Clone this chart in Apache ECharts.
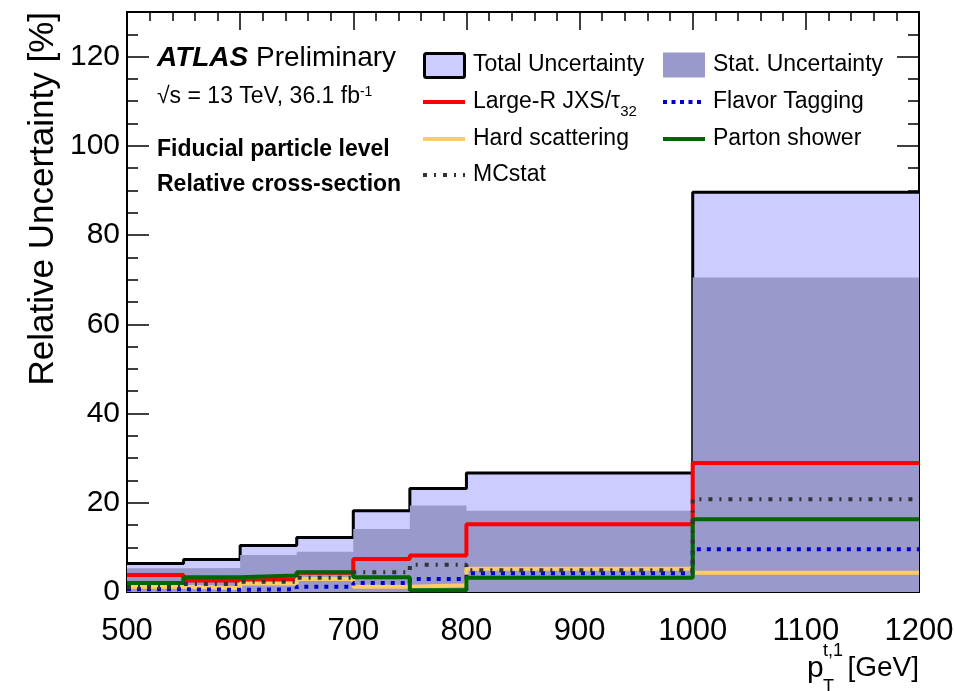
<!DOCTYPE html>
<html><head><meta charset="utf-8">
<script src="https://cdn.jsdelivr.net/npm/echarts@6/dist/echarts.min.js"></script>
<style>html,body{margin:0;padding:0;background:#fff}#c{width:955px;height:691px}</style>
</head><body><div id="c"></div>
<script>
// ---- data (bin edges in GeV, relative uncertainties in %) ----
const binEdges  = [500, 550, 600, 650, 700, 750, 800, 1000, 1200];
const totalUnc  = [6.4, 7.3, 10.4, 12.2, 18.2, 23.2, 26.7, 89.6];
const statUnc   = [5.3, 5.4, 8.3, 9.0, 14.1, 19.4, 18.2, 70.5];
const largeRJXS = [3.8, 2.6, 2.8, 4.3, 7.4, 8.2, 15.2, 28.9];
const flavorTag = [0.6, 0.5, 0.6, 1.2, 2.0, 2.9, 4.2, 9.6];
const hardScat  = [1.2, 0.9, 1.9, 2.9, 1.2, 1.5, 5.2, 4.3];
const partonSh  = [2.0, 3.3, 3.7, 4.4, 3.3, 0.4, 3.2, 16.3];
const mcStat    = [1.1, 1.8, 2.3, 3.2, 4.4, 6.1, 4.9, 20.8];
const xTickLabels = [500, 600, 700, 800, 900, 1000, 1100, 1200];
const yTickLabels = [0, 20, 40, 60, 80, 100, 120];

const FONT = "'Liberation Sans', Arial, Helvetica, sans-serif";

function steps(vals) {
  const d = vals.map((v, i) => [binEdges[i], v]);
  d.push([binEdges[binEdges.length - 1], vals[vals.length - 1]]);
  return d;
}

const chart = echarts.init(document.getElementById('c'), null, {renderer: 'canvas'});

function xAx(pos, labels) {
  return {
    type: 'value', min: 500, max: 1200, interval: 100, position: pos,
    axisLine: {show: true, onZero: false, lineStyle: {color: '#000', width: 2}},
    axisTick: {show: true, inside: true, length: 18, lineStyle: {color: '#000', width: 1.5}},
    minorTick: {show: true, splitNumber: 5, length: 9, lineStyle: {color: '#000', width: 1.5}},
    axisLabel: labels ? {show: true, fontSize: 31, fontFamily: FONT, color: '#000', margin: 24,
      formatter: v => xTickLabels.includes(v) ? String(v) : ''} : {show: false},
    splitLine: {show: false}, minorSplitLine: {show: false}
  };
}
function yAx(pos, interval, len, labels, line) {
  return {
    type: 'value', min: 0, max: 130, interval: interval, position: pos,
    axisLine: {show: line, onZero: false, lineStyle: {color: '#000', width: 2}},
    axisTick: {show: true, inside: true, length: len, lineStyle: {color: '#000', width: 1.5}},
    axisLabel: labels ? {show: true, fontSize: 30, fontFamily: FONT, color: '#000', margin: 7,
      formatter: v => yTickLabels.includes(v) ? String(v) : ''} : {show: false},
    splitLine: {show: false}
  };
}

function lineSeries(name, vals, color, width, type, z) {
  return {
    name: name, type: 'line', step: 'end', data: steps(vals),
    xAxisIndex: 0, yAxisIndex: 0, symbol: 'none', showSymbol: false,
    lineStyle: {color: color, width: width, type: type, cap: 'butt'},
    itemStyle: {color: color}, z: z, silent: true
  };
}

// legend drawn as graphic elements (icon + text)
function legLine(x, y, color, dash) {
  return {type: 'line', z: 100, shape: {x1: x, y1: y, x2: x + 42, y2: y},
    style: {stroke: color, lineWidth: 4, lineDash: dash, lineCap: 'butt'}};
}
function legText(x, y, txt, rich) {
  return {type: 'text', x: x, y: y, z: 100, style: {text: txt, fill: '#000', font: '23px ' + FONT,
    verticalAlign: 'middle', rich: rich || {}}};
}
const c1 = 423, c2 = 663, r1 = 65, r2 = 102, r3 = 139, r4 = 175;

const option = {
  animation: false,
  backgroundColor: '#fff',
  grid: {left: 127, right: 36, top: 12, bottom: 99, containLabel: false, outerBoundsMode: 'none'},
  xAxis: [xAx('bottom', true), xAx('top', false)],
  yAxis: [yAx('left', 20, 22, true, true), yAx('left', 5, 11, false, false),
          yAx('right', 20, 22, false, true), yAx('right', 5, 11, false, false)],
  series: [
    {
      name: 'Total Uncertainty', type: 'line', step: 'end', data: steps(totalUnc),
      symbol: 'none', lineStyle: {color: '#000', width: 3}, itemStyle: {color: '#ccccff'},
      areaStyle: {color: '#ccccff', opacity: 1}, z: 1, silent: true
    },
    {
      name: 'Stat. Uncertainty', type: 'line', step: 'end', data: steps(statUnc),
      symbol: 'none', lineStyle: {width: 0, opacity: 0}, itemStyle: {color: '#9999cc'},
      areaStyle: {color: '#9999cc', opacity: 1}, z: 2, silent: true
    },
    lineSeries('Large-R JXS/τ32', largeRJXS, '#ff0000', 4, 'solid', 3),
    lineSeries('Hard scattering', hardScat, '#ffcc66', 4, 'solid', 4),
    lineSeries('Flavor Tagging', flavorTag, '#0000d0', 4, [4, 6], 5),
    lineSeries('Parton shower', partonSh, '#006600', 4, 'solid', 6),
    lineSeries('MCstat', mcStat, '#333333', 4, [4, 7, 2, 7], 7)
  ],
  graphic: [
    // legend
    {type: 'rect', z: 100, shape: {x: c1 + 1.5, y: r1 - 11.5, width: 40, height: 24, r: 2},
      style: {fill: '#ccccff', stroke: '#000', lineWidth: 3}},
    legText(c1 + 50, r1, 'Total Uncertainty'),
    {type: 'rect', z: 100, shape: {x: c2, y: r1 - 12.5, width: 42, height: 25},
      style: {fill: '#9999cc'}},
    legText(c2 + 50, r1, 'Stat. Uncertainty'),
    legLine(c1, r2, '#ff0000', null),
    legText(c1 + 50, r2, 'Large-R JXS/τ{sub|32}',
      {sub: {fontSize: 15, fontFamily: FONT, fill: '#000', verticalAlign: 'bottom', padding: [20, 0, 0, 0]}}),
    legLine(c2, r2, '#0000d0', [4, 4.5]),
    legText(c2 + 50, r2, 'Flavor Tagging'),
    legLine(c1, r3, '#ffcc66', null),
    legText(c1 + 50, r3, 'Hard scattering'),
    legLine(c2, r3, '#006600', null),
    legText(c2 + 50, r3, 'Parton shower'),
    legLine(c1, r4, '#333333', [4, 7, 2, 7]),
    legText(c1 + 50, r4, 'MCstat'),
    // labels
    {type: 'text', x: 157, y: 58, z: 100, style: {
      text: '{a|ATLAS} {b|Preliminary}', fill: '#000', font: '28px ' + FONT, verticalAlign: 'middle',
      rich: {a: {fontSize: 28, fontFamily: FONT, fontWeight: 'bold', fontStyle: 'italic', fill: '#000'},
             b: {fontSize: 28, fontFamily: FONT, fill: '#000'}}}},
    {type: 'text', x: 157, y: 97, z: 100, style: {
      text: '√s = 13 TeV, 36.1 fb{sup|-1}', fill: '#000', font: '23px ' + FONT, verticalAlign: 'middle',
      rich: {sup: {fontSize: 14, fontFamily: FONT, fill: '#000', verticalAlign: 'top'}}}},
    {type: 'text', x: 157, y: 150, z: 100, style: {
      text: 'Fiducial particle level', fill: '#000', font: 'bold 23px ' + FONT, verticalAlign: 'middle'}},
    {type: 'text', x: 157, y: 185, z: 100, style: {
      text: 'Relative cross-section', fill: '#000', font: 'bold 23px ' + FONT, verticalAlign: 'middle'}},
    {type: 'text', x: 61, y: 12, rotation: Math.PI / 2, z: 100, style: {
      text: 'Relative Uncertainty [%]', fill: '#000', font: '35px ' + FONT, align: 'right', verticalAlign: 'bottom'}},
    {type: 'text', x: 919, y: 682, z: 100, style: {
      text: '[GeV]', fill: '#000', font: '28px ' + FONT, align: 'right', verticalAlign: 'bottom'}},
    {type: 'text', x: 807, y: 684, z: 100, style: {
      text: 'p', fill: '#000', font: '30px ' + FONT, align: 'left', verticalAlign: 'bottom'}},
    {type: 'text', x: 823, y: 660, z: 100, style: {
      text: 't,1', fill: '#000', font: '18px ' + FONT, align: 'left', verticalAlign: 'bottom'}},
    {type: 'text', x: 823, y: 696, z: 100, style: {
      text: 'T', fill: '#000', font: '18px ' + FONT, align: 'left', verticalAlign: 'bottom'}}
  ]
};
chart.setOption(option);
</script>
</body></html>
